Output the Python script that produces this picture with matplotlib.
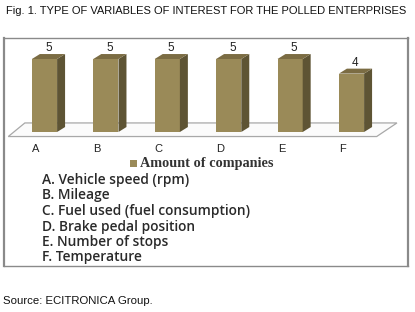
import matplotlib.pyplot as plt
from matplotlib.patches import Polygon, Rectangle

# data
categories = ['A', 'B', 'C', 'D', 'E', 'F']
values = [5, 5, 5, 5, 5, 4]
series_name = 'Amount of companies'
descriptions = ['A. Vehicle speed (rpm)', 'B. Mileage', 'C. Fuel used (fuel consumption)',
                'D. Brake pedal position', 'E. Number of stops', 'F. Temperature']
title = 'Fig. 1. TYPE OF VARIABLES OF INTEREST FOR THE POLLED ENTERPRISES'
source = 'Source: ECITRONICA Group.'

W, H = 415, 312
fig = plt.figure(figsize=(W / 100, H / 100), dpi=100)
fig.patch.set_facecolor('white')

sans = ['Liberation Sans', 'DejaVu Sans']

def px_rect(x0, y0, x1, y1):
    # pixel box (top-left origin) -> figure fraction
    return [x0 / W, 1 - y1 / H, (x1 - x0) / W, (y1 - y0) / H]

fig.text(6 / W, 1 - 11 / H, title, fontsize=8.05, family=sans, va='center', ha='left',
         color='#111111')
fig.text(3 / W, 1 - 301 / H, source, fontsize=8.2, family=sans, va='center', ha='left',
         color='#111111')

# chart box
bx0, by0, bx1, by1 = 4, 38, 408, 266
ax = fig.add_axes(px_rect(bx0, by0, bx1, by1))
# mapping: index i -> px 44.5 + 61.4*i ; value v -> px 132 - 14.6*v
sx, ox = 61.4, 44.5
sy, oy = 14.6, 132
ax.set_xlim((bx0 - ox) / sx, (bx1 - ox) / sx)
ax.set_ylim((oy - by1) / sy, (oy - by0) / sy)
ax.set_xticks([])
ax.set_yticks([])
for s in ax.spines.values():
    s.set_color('#8a8a8a')
    s.set_linewidth(1.0)
ax.spines['left'].set_linewidth(1.6)
ax.spines['right'].set_linewidth(1.6)

# floor
fl = Polygon([(-0.59, -0.31), (5.41, -0.31), (5.74, 0.62), (-0.32, 0.62)], closed=True,
             facecolor='#fbfbfb', edgecolor='#a8a8a8', lw=0.9, zorder=1)
ax.add_patch(fl)

bw = 0.41
ddx, ddy = 0.13, 0.34
front = '#9a8a58'
side = '#5e5434'
top = '#7b6c43'
for i, v in enumerate(values):
    x0 = i - bw / 2
    ax.bar(i, v, width=bw, bottom=0, color=front, edgecolor='none', zorder=3)
    ax.add_patch(Polygon([(x0 + bw, 0), (x0 + bw + ddx, ddy), (x0 + bw + ddx, v + ddy), (x0 + bw, v)],
                         closed=True, facecolor=side, edgecolor='none', zorder=3))
    ax.add_patch(Polygon([(x0, v), (x0 + bw, v), (x0 + bw + ddx, v + ddy), (x0 + ddx, v + ddy)],
                         closed=True, facecolor=top, edgecolor='none', zorder=3))
    ax.text(i + ddx / 2, v + 0.75, str(v), ha='center', va='center', fontsize=8.5,
            family=sans, color='#222222', zorder=4)
    ax.text(i - 0.14, (oy - 149) / sy, categories[i], ha='center', va='center', fontsize=8,
            family=sans, color='#222222', zorder=4)

# legend
ax.add_patch(Rectangle(((129.5 - ox) / sx, (oy - 167) / sy), 7 / sx, 7 / sy,
                       facecolor=front, edgecolor='none', zorder=4))
ax.text((140 - ox) / sx, (oy - 163.5) / sy, series_name, ha='left', va='center', fontsize=10.3,
        family=['Liberation Serif', 'DejaVu Serif'], weight='bold', color='#333333', zorder=4)

# description list
for k, d in enumerate(descriptions):
    ax.text((42 - ox) / sx, (oy - (180 + 15.5 * k)) / sy, d, ha='left', va='center',
            fontsize=9.95, family=['Open Sans', 'DejaVu Sans'], weight='semibold',
            color='#2a2a2a', zorder=4)

fig.savefig('out.png', dpi=100, facecolor='white')
